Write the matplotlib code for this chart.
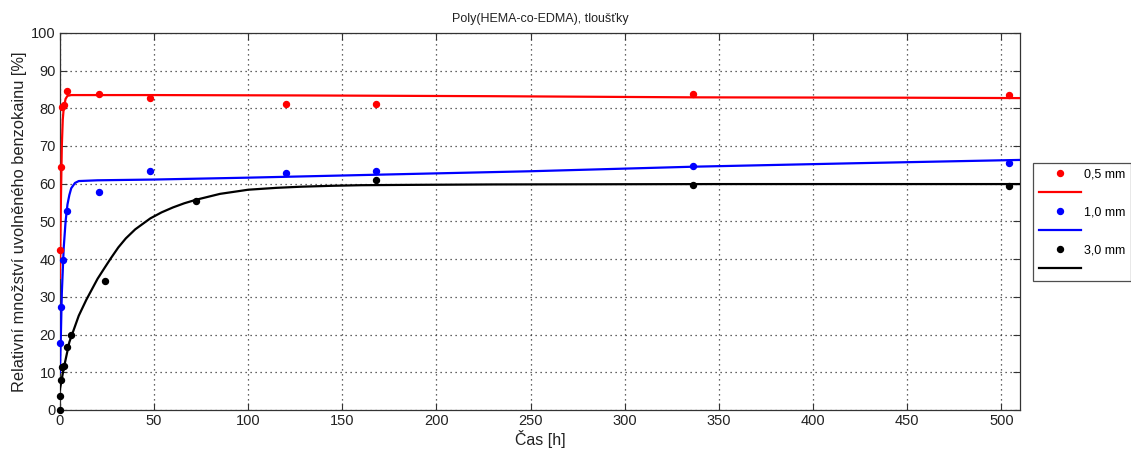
import matplotlib
matplotlib.use('Agg')
import matplotlib.pyplot as plt
from matplotlib.lines import Line2D

plt.rcParams['font.family'] = ['Liberation Sans', 'DejaVu Sans']

# measured points (time in h, released amount in %)
t_05 = [0, 0.5, 1, 2, 4, 21, 48, 120, 168, 336, 504]
y_05 = [42.4, 64.3, 80.3, 80.8, 84.7, 83.9, 82.8, 81.2, 81.1, 83.7, 83.4]
t_10 = [0, 0.5, 1.5, 4, 21, 48, 120, 168, 336, 504]
y_10 = [17.7, 27.3, 39.7, 52.8, 57.7, 63.3, 62.9, 63.4, 64.8, 65.4]
t_30 = [0, 0, 0.5, 1, 2, 4, 6, 24, 72, 168, 336, 504]
y_30 = [0, 3.8, 8.0, 11.3, 11.6, 16.6, 19.8, 34.3, 55.3, 60.9, 59.7, 59.3]

# fitted curves
ft_05 = [0, 0.5, 1, 1.5, 2, 3, 4, 6, 10, 50, 130, 230, 336, 450, 510]
fy_05 = [35, 55, 70, 77, 80, 82.5, 83.3, 83.5, 83.5, 83.5, 83.4, 83.2, 82.9, 82.8, 82.7]
ft_10 = [0, 0.5, 1, 2, 3, 4, 5, 6, 8, 10, 20, 50, 100, 170, 250, 336, 420, 510]
fy_10 = [10, 20, 31, 43, 50, 54.5, 57, 58.8, 60.2, 60.7, 60.9, 61.1, 61.6, 62.4, 63.3, 64.5, 65.4, 66.3]
ft_30 = [0, 2, 5, 10, 14, 20, 24, 27, 31, 35, 40, 48, 54, 60, 66, 72, 85, 100, 115, 128, 145, 160, 190, 230, 350, 510]
fy_30 = [5.5, 11, 18, 25, 29.2, 34.8, 37.9, 40.2, 43.1, 45.5, 47.9, 50.8, 52.4, 53.7, 54.8, 55.7, 57.3, 58.4, 58.9, 59.2, 59.45, 59.6, 59.7, 59.8, 59.9, 59.9]

labels = ['0,5 mm', '1,0 mm', '3,0 mm']
colors = ['#ff0000', '#0000ff', '#000000']

fig = plt.figure(figsize=(11.31, 4.5), dpi=100)
ax = fig.add_axes([0.053, 0.089, 0.849, 0.838])

series = [(t_05, y_05, ft_05, fy_05), (t_10, y_10, ft_10, fy_10), (t_30, y_30, ft_30, fy_30)]
handles = []
leg_labels = []
for (t, y, ft, fy), c, lab in zip(series, colors, labels):
    ax.plot(ft, fy, '-', color=c, lw=1.6, zorder=3)
    ax.plot(t, y, 'o', color=c, ms=4.3, mec=c, zorder=4, clip_on=False)
    handles.append(Line2D([], [], ls='none', marker='o', color=c, ms=4.3))
    leg_labels.append(lab)
    handles.append(Line2D([], [], ls='-', color=c, lw=1.6))
    leg_labels.append(' ')

ax.set_xlim(0, 510)
ax.set_ylim(0, 100)
ax.set_xticks(range(0, 501, 50))
ax.set_yticks(range(0, 101, 10))
ax.grid(True, ls=(0, (1, 3)), color='#333333', lw=0.9)
ax.tick_params(direction='in', length=5, top=True, right=True, labelsize=10.5,
               colors='#333333', labelcolor='#222222', pad=3)
for sp in ax.spines.values():
    sp.set_color('#333333')
    sp.set_linewidth(0.9)

ax.set_title('Poly(HEMA-co-EDMA), tloušťky', fontsize=9, color='#222222', pad=8)
ax.set_xlabel('Čas [h]', fontsize=11.5, color='#222222', labelpad=1)
ax.set_ylabel('Relativní množství uvolněného benzokainu [%]', fontsize=11.8, color='#222222', labelpad=3)

leg = fig.legend(handles, leg_labels, loc='upper left',
                 bbox_to_anchor=(1033 / 1131, 1 - 163 / 450), fontsize=9,
                 frameon=True, fancybox=False, edgecolor='#222222',
                 handlelength=3.4, handletextpad=0.25, labelspacing=0.55,
                 borderpad=0.45, numpoints=1, borderaxespad=0)
leg.get_frame().set_linewidth(0.9)

fig.savefig('out.png', dpi=100)
